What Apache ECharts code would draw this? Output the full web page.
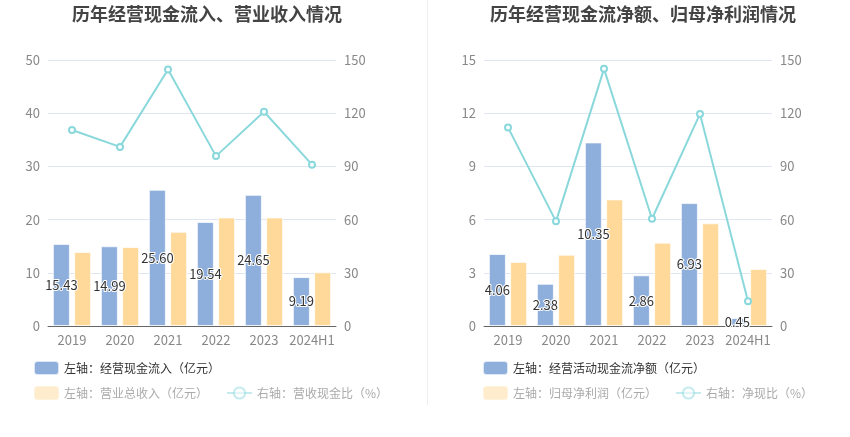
<!DOCTYPE html>
<html>
<head>
<meta charset="utf-8">
<script src="https://cdn.jsdelivr.net/npm/echarts@6/dist/echarts.min.js"></script>
<style>
  html, body { margin: 0; padding: 0; background: #fff; }
  #wrap { width: 850px; height: 437px; position: relative; }
  #left { position: absolute; left: 0; top: 0; width: 425px; height: 437px; }
  #right { position: absolute; left: 425px; top: 0; width: 425px; height: 437px; }
  #divider { position: absolute; left: 427px; top: 0; width: 1px; height: 405px; background: #eeeeee; }
</style>
</head>
<body>
<div id="wrap">
  <div id="left"></div>
  <div id="divider"></div>
  <div id="right"></div>
</div>
<script>
var years = ['2019', '2020', '2021', '2022', '2023', '2024H1'];

// 左图：经营现金流入 / 营业总收入 / 营收现金比
var cashIn = [15.43, 14.99, 25.60, 19.54, 24.65, 9.19];
var revenue = [13.9, 14.85, 17.7, 20.4, 20.4, 10.1];
var cashRevRatio = [110.5, 101.0, 144.6, 95.8, 120.8, 91.0];

// 右图：经营活动现金流净额 / 归母净利润 / 净现比
var netCash = [4.06, 2.38, 10.35, 2.86, 6.93, 0.45];
var netProfit = [3.61, 4.02, 7.14, 4.70, 5.79, 3.21];
var netCashRatio = [112.0, 59.0, 145.0, 60.5, 119.6, 14.0];

var FONT = '"Noto Sans CJK SC", "Noto Sans", sans-serif';
var BLUE = '#8eaedb';
var ORANGE = '#ffd999';
var CYAN = '#8ad8db';

function buildOption(cfg) {
    return {
        textStyle: { fontFamily: FONT },
        title: {
            text: cfg.title,
            left: cfg.titleCenter,
            top: 0,
            textAlign: 'center',
            textStyle: { fontSize: 18, fontWeight: 'bold', color: '#444', fontFamily: FONT }
        },
        legend: [
            {
                left: cfg.legendLeft,
                top: 355,
                itemWidth: 25,
                itemHeight: 14,
                textStyle: { fontSize: 12, color: '#333', fontFamily: FONT },
                data: [{ name: cfg.names[0], icon: 'roundRect' }]
            },
            {
                left: cfg.legendLeft,
                top: 380,
                itemWidth: 25,
                itemHeight: 14,
                itemGap: 18,
                textStyle: { fontSize: 12, color: '#aaa', fontFamily: FONT },
                data: [
                    { name: cfg.names[1], icon: 'roundRect', itemStyle: { opacity: 0.5 } },
                    { name: cfg.names[2], itemStyle: { opacity: 0.5 }, lineStyle: { opacity: 0.5 } }
                ]
            }
        ],
        grid: { left: cfg.gridLeft, right: cfg.gridRight, top: 60, bottom: 111 },
        xAxis: {
            type: 'category',
            data: years,
            axisLine: { lineStyle: { color: '#666' } },
            axisTick: { alignWithLabel: true, lineStyle: { color: '#666' } },
            axisLabel: { color: '#888', fontSize: 13, margin: 8, interval: 0, fontFamily: FONT }
        },
        yAxis: [
            {
                type: 'value',
                min: 0,
                max: cfg.leftMax,
                interval: cfg.leftInterval,
                axisLine: { show: false },
                axisTick: { show: false },
                axisLabel: { color: '#888', fontSize: 13, margin: 8, fontFamily: FONT },
                splitLine: { lineStyle: { color: '#e0e6f1' } }
            },
            {
                type: 'value',
                min: 0,
                max: 150,
                interval: 30,
                axisLine: { show: false },
                axisTick: { show: false },
                axisLabel: { color: '#888', fontSize: 13, margin: 8, fontFamily: FONT },
                splitLine: { show: false }
            }
        ],
        series: [
            {
                name: cfg.names[0],
                type: 'bar',
                data: cfg.bar1,
                barWidth: 17,
                barGap: '25%',
                itemStyle: { color: BLUE, borderColor: 'rgba(255,255,255,0.7)', borderWidth: 1 },
                label: {
                    show: true,
                    position: 'inside',
                    color: '#333',
                    fontSize: 13,
                    fontFamily: FONT,
                    textBorderColor: '#fff',
                    textBorderWidth: 2,
                    formatter: function (p) { return p.value.toFixed(2); }
                }
            },
            {
                name: cfg.names[1],
                type: 'bar',
                data: cfg.bar2,
                barWidth: 17,
                itemStyle: { color: ORANGE, borderColor: 'rgba(255,255,255,0.7)', borderWidth: 1 }
            },
            {
                name: cfg.names[2],
                type: 'line',
                yAxisIndex: 1,
                data: cfg.line,
                symbol: 'emptyCircle',
                symbolSize: 6,
                lineStyle: { color: CYAN, width: 2 },
                itemStyle: { color: CYAN }
            }
        ]
    };
}

var leftChart = echarts.init(document.getElementById('left'));
leftChart.setOption(buildOption({
    title: '历年经营现金流入、营业收入情况',
    titleCenter: 202,
    legendLeft: 28,
    gridLeft: 48,
    gridRight: 89,
    leftMax: 50,
    leftInterval: 10,
    names: ['左轴：经营现金流入（亿元）', '左轴：营业总收入（亿元）', '右轴：营收现金比（%）'],
    bar1: cashIn,
    bar2: revenue,
    line: cashRevRatio
}));

var rightChart = echarts.init(document.getElementById('right'));
rightChart.setOption(buildOption({
    title: '历年经营现金流净额、归母净利润情况',
    titleCenter: 213,
    legendLeft: 52,
    gridLeft: 59,
    gridRight: 78,
    leftMax: 15,
    leftInterval: 3,
    names: ['左轴：经营活动现金流净额（亿元）', '左轴：归母净利润（亿元）', '右轴：净现比（%）'],
    bar1: netCash,
    bar2: netProfit,
    line: netCashRatio
}));
</script>
</body>
</html>
